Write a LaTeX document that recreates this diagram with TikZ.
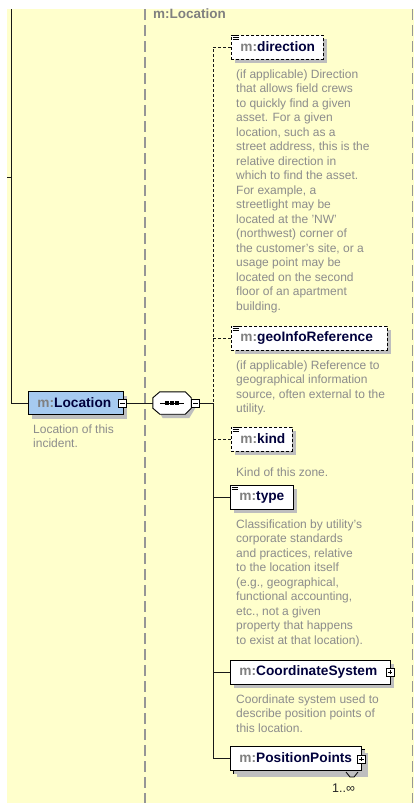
\documentclass[tikz,border=0pt]{standalone}
\usepackage{fontspec}
\setmainfont{Liberation Sans}
\usetikzlibrary{shadows}
\definecolor{bgy}{RGB}{255,255,204}
\definecolor{mgray}{RGB}{128,128,128}
\definecolor{dgray}{RGB}{140,140,140}
\definecolor{navy}{RGB}{0,0,60}
\definecolor{shad}{RGB}{190,190,190}
\definecolor{locblue}{RGB}{166,202,240}
\definecolor{guide}{RGB}{150,150,150}
\newcommand{\mname}[1]{{\color{mgray}m:}{\color{navy}#1}}
\begin{document}
\begin{tikzpicture}[x=1pt,y=-1pt,
  elemshadow/.style={drop shadow={shadow xshift=4pt,shadow yshift=-4pt,fill=shad,opacity=1}},
  elem/.style={draw=black,fill=white,line width=0.9pt,inner xsep=9pt,inner ysep=0pt,
    minimum height=24pt,align=left,anchor=west,font=\fontsize{13.7}{16}\selectfont\bfseries,elemshadow},
  optelem/.style={elem,dash pattern=on 3pt off 2pt},
  desc/.style={anchor=north west,inner sep=0pt,align=left,text=dgray,
    font=\fontsize{12}{14.5}\selectfont},
  conn/.style={draw=black!90,line width=1pt},
  optconn/.style={conn,dash pattern=on 3pt off 2pt},
  guideline/.style={draw=guide,line width=1.2pt,dash pattern=on 11pt off 5pt},
  pmbox/.style={draw=black,fill=white,line width=0.7pt,minimum size=8pt,inner sep=0pt},
  minusbox/.style={pmbox,path picture={\draw[line width=0.7pt] ([xshift=1.8pt]path picture bounding box.west) -- ([xshift=-1.8pt]path picture bounding box.east);}},
  plusbox/.style={pmbox,path picture={\draw[line width=0.7pt] ([xshift=1.8pt]path picture bounding box.west) -- ([xshift=-1.8pt]path picture bounding box.east) ([yshift=-1.8pt]path picture bounding box.north) -- ([yshift=1.8pt]path picture bounding box.south);}}
]
\useasboundingbox (0,0) rectangle (414,803);
\fill[white] (0,0) rectangle (414,803);
\fill[bgy] (7,9) rectangle (414,803);
% guide lines
\draw[guideline] (145,9) -- (145,803);
\draw[guideline] (412.5,9) -- (412.5,803);
\node[anchor=base west,inner sep=0pt,text=mgray,font=\fontsize{13.5}{15}\selectfont\bfseries] (title) at (153,19) {m:Location};
% Location
\node[elem,fill=locblue,text width=77pt,minimum height=23pt] (loc) at (28,403) {\mname{Location}};
\node[minusbox] (locm) at (122.5,403) {};
\node[desc] (locd) at (33,424.5) {Location of this\\incident.};
% left line
\coordinate (ltop) at (11,9);
\coordinate (ltick) at (7,177);
\draw[conn] (ltop) |- (loc.west);
\draw[conn] (ltick) -- (ltick -| ltop);
% sequence
\node[minimum width=38pt,minimum height=22pt,inner sep=0pt] (seq) at (172,403) {};
\fill[shad] ([shift={(7,4)}]seq.north west) -- ([shift={(-6,4)}]seq.north east) -- ([shift={(4,10)}]seq.north east)
  -- ([shift={(4,-6)}]seq.south east) -- ([shift={(-2,4)}]seq.south east) -- ([shift={(10,4)}]seq.south west)
  -- ([shift={(4,-6)}]seq.south west) -- ([shift={(4,10)}]seq.north west) -- cycle;
\draw[fill=white,line width=0.9pt] ([xshift=7pt]seq.north west) -- ([xshift=-6pt]seq.north east) -- ([yshift=-6pt]seq.north east)
  -- ([yshift=6pt]seq.south east) -- ([xshift=-6pt]seq.south east) -- ([xshift=7pt]seq.south west)
  -- ([yshift=6pt]seq.south west) -- ([yshift=-6pt]seq.north west) -- cycle;
\draw[line width=0.9pt] ([xshift=-12pt]seq.center) -- ([xshift=12pt]seq.center);
\foreach \dx in {-5,0,5} \fill ([xshift=\dx pt]seq.center) ++(-1.6,-1.6) rectangle ++(3.2,3.2);
\node[minusbox] (seqm) at (195.5,403) {};
\draw[conn] (locm.east) -- (seq.west);
\coordinate (tj) at (213,403);
\draw[conn] (seqm.east) -- (tj);
% children
\node[optelem,text width=74pt] (dir) at (231,47) {\mname{direction}};
\node[optelem,text width=138pt] (geo) at (231,338) {\mname{geoInfoReference}};
\node[optelem,text width=43pt] (kind) at (231,439) {\mname{kind}};
\node[elem,text width=45pt] (type) at (230,497) {\mname{type}};
\node[elem,text width=142pt] (cs) at (230,672) {\mname{CoordinateSystem}};
\node[plusbox] (csp) at (390,672) {};
\node[elem,text width=113pt] (ppb) at (233,761) {\phantom{\mname{PositionPoints}}};
\node[elem,text width=113pt,drop shadow={opacity=0}] (pp) at (230,758) {\mname{PositionPoints}};
\node[plusbox] (ppp) at (361.5,759) {};
\draw[line width=0.8pt] (346,772) -- (350,777) -- (354,777) -- (358,772);
\node[anchor=base west,inner sep=0pt,text=black!85,font=\fontsize{12.5}{14}\selectfont] (mult) at (332,792) {1..∞};
% icons
\foreach \n in {dir,geo,kind,type}{
  \foreach \dy in {1.2,3.2,5.2}
    \draw[line width=0.8pt] ([xshift=1.5pt,yshift=-\dy pt]\n.north west) -- ++(6,0);
}
% connectors
\draw[optconn] (dir.west) -| (tj);
\draw[optconn] (geo.west) -- (geo.west -| tj);
\draw[optconn] (kind.west) -- (kind.west -| tj);
\draw[conn] (tj) |- (pp.west);
\draw[conn] (type.west) -- (type.west -| tj);
\draw[conn] (cs.west) -- (cs.west -| tj);
% descriptions
\node[desc] (dird) at (236,69.5) {(if applicable) Direction\\that allows field crews\\to quickly find a given\\asset. For a given\\location, such as a\\street address, this is the\\relative direction in\\which to find the asset.\\For example, a\\streetlight may be\\located at the 'NW'\\(northwest) corner of\\the customer's site, or a\\usage point may be\\located on the second\\floor of an apartment\\building.};
\node[desc] (geod) at (236,360.5) {(if applicable) Reference to\\geographical information\\source, often external to the\\utility.};
\node[desc] (kindd) at (236,467.5) {Kind of this zone.};
\node[desc] (typed) at (236,519.5) {Classification by utility's\\corporate standards\\and practices, relative\\to the location itself\\(e.g., geographical,\\functional accounting,\\etc., not a given\\property that happens\\to exist at that location).};
\node[desc] (csd) at (236,694.5) {Coordinate system used to\\describe position points of\\this location.};
\end{tikzpicture}
\end{document}
